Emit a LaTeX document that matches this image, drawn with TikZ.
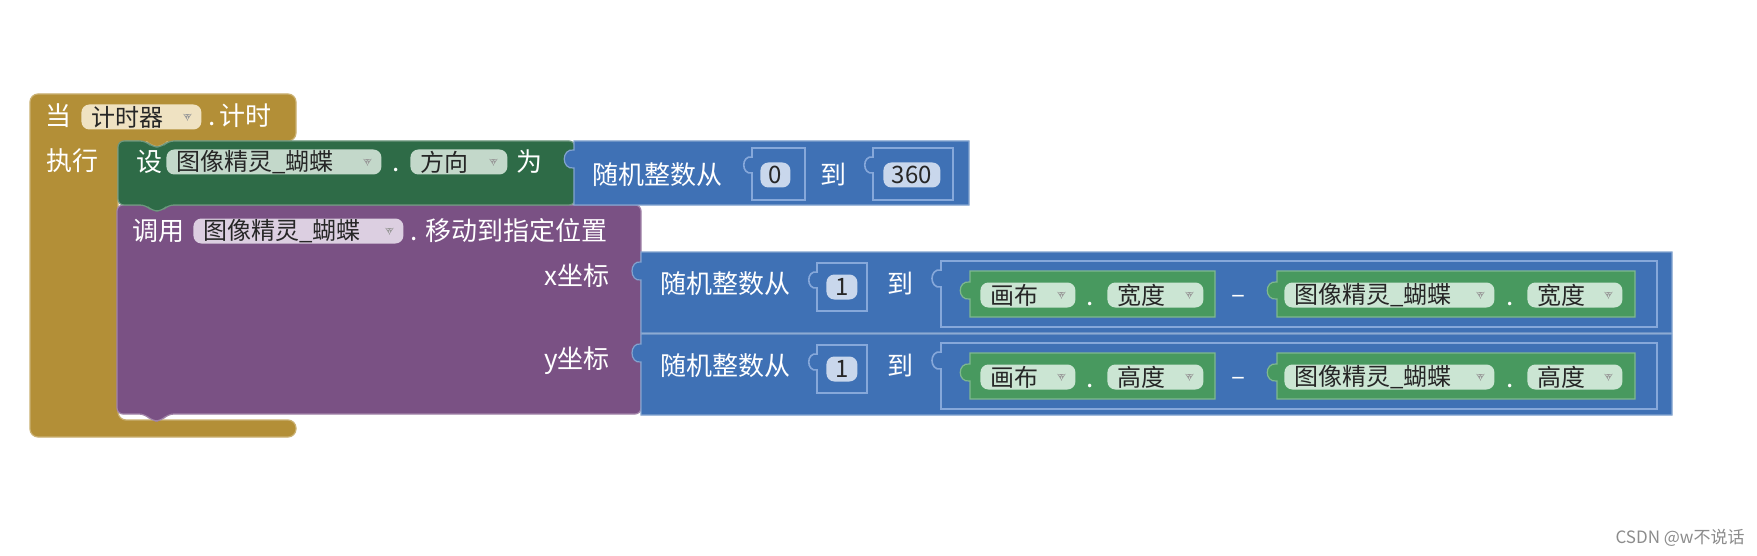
\documentclass[tikz,border=0pt]{standalone}
\usepackage{fontspec}
\setmainfont{Noto Sans CJK SC}
\usepackage{tikz}
\usetikzlibrary{positioning}
\definecolor{eventGold}{HTML}{B38F37}
\definecolor{setGreen}{HTML}{2E6B47}
\definecolor{mathBlue}{HTML}{3F71B5}
\definecolor{callPurple}{HTML}{7A5184}
\definecolor{getGreen}{HTML}{48995F}
\definecolor{socketLine}{HTML}{86A8DA}
\definecolor{goldPill}{HTML}{EFE2C2}
\definecolor{greenPill}{HTML}{C3D8CA}
\definecolor{purplePill}{HTML}{DCCFE1}
\definecolor{bluePill}{HTML}{C9D7EC}
\definecolor{getPill}{HTML}{CBE5D3}
\definecolor{markGray}{HTML}{9A9A9A}
\tikzset{
  blockLabel/.style={
    anchor=west, inner sep=0pt, text=white,
    text height=10.8pt, text depth=1.6pt,
    font=\fontsize{13pt}{15pt}\selectfont,
  },
  pill/.style={
    rectangle, rounded corners=4pt, fill=#1, anchor=west,
    inner xsep=5pt, inner ysep=0pt, minimum height=12.5pt,
    text=black!85, align=left, font=\fontsize{12pt}{13pt}\selectfont,
  },
  dropPill/.style={
    pill=#1,
    path picture={\fill[markGray]
      ([xshift=-9pt,yshift=1.4pt]path picture bounding box.east)
      -- ++(4pt,0) -- ++(-2pt,-3pt) -- cycle;},
  },
  numPill/.style={
    pill=bluePill, inner xsep=3pt, align=center,
  },
  blockEdge/.style={
    draw=#1, line width=0.6pt,
  },
  socket/.style={
    fill=mathBlue, draw=socketLine, line width=0.8pt,
  },
  watermark/.style={
    anchor=east, inner sep=0pt, text=black!45,
    font=\fontsize{8.5pt}{10pt}\selectfont,
  },
}

\begin{document}
\begin{tikzpicture}[x=0.5pt, y=-0.5pt]
\useasboundingbox (0,0) rectangle (1757,556);
\fill[white] (0,0) rectangle (1757,556);

% Event block: when timer fires
\filldraw[fill=eventGold, blockEdge=eventGold!70!white, rounded corners=4pt]
  (30,94) -- (296,94) -- (296,141) -- (168,141) -- (162,147) -- (152,147)
  -- (146,141) -- (118,141) -- (118,420) -- (296,420) -- (296,437)
  -- (30,437) -- cycle;

% Call block: move sprite
\filldraw[fill=callPurple, blockEdge=callPurple!70!white, rounded corners=3pt]
  (117,205) -- (641,205) -- (641,414) -- (168,414) -- (161,421)
  -- (152,421) -- (145,414) -- (117,414) -- cycle;

% Set block: heading
\filldraw[fill=setGreen, blockEdge=setGreen!70!white, rounded corners=3pt]
  (118,141) -- (146,141) -- (152,147) -- (162,147) -- (168,141)
  -- (575,141) -- (575,205) -- (168,205) -- (162,211) -- (152,211)
  -- (146,205) -- (118,205) -- cycle;

% Value block: random 0..360
\filldraw[fill=mathBlue, blockEdge=mathBlue!65!white]
  (574,141) -- (969,141) -- (969,205) -- (574,205) -- (574,168)
  .. controls (561,170) and (561,148) .. (574,150) -- cycle;
\filldraw[socket]
  (752,148) -- (805,148) -- (805,200) -- (752,200) -- (752,173)
  .. controls (741,175) and (741,155) .. (752,157) -- cycle;
\filldraw[socket]
  (873,148) -- (953,148) -- (953,200) -- (873,200) -- (873,173)
  .. controls (862,175) and (862,155) .. (873,157) -- cycle;

% Value blocks: random x / y
\foreach \dy in {0,82}
{
  \filldraw[fill=mathBlue, blockEdge=mathBlue!65!white]
    (641,252+\dy) -- (1672,252+\dy) -- (1672,333+\dy) -- (641,333+\dy)
    -- (641,280+\dy) .. controls (629,282+\dy) and (629,260+\dy)
    .. (641,262+\dy) -- cycle;
  \filldraw[socket]
    (817,263+\dy) -- (867,263+\dy) -- (867,311+\dy) -- (817,311+\dy)
    -- (817,288+\dy) .. controls (806,290+\dy) and (806,270+\dy)
    .. (817,272+\dy) -- cycle;
  \filldraw[socket]
    (941,261+\dy) -- (1657,261+\dy) -- (1657,327+\dy) -- (941,327+\dy)
    -- (941,287+\dy) .. controls (929,289+\dy) and (929,268+\dy)
    .. (941,270+\dy) -- cycle;
  \filldraw[fill=getGreen, blockEdge=getGreen!70!white]
    (970,271+\dy) -- (1215,271+\dy) -- (1215,317+\dy) -- (970,317+\dy)
    -- (970,299+\dy) .. controls (957,301+\dy) and (957,280+\dy)
    .. (970,282+\dy) -- cycle;
  \filldraw[fill=getGreen, blockEdge=getGreen!70!white]
    (1277,271+\dy) -- (1635,271+\dy) -- (1635,317+\dy) -- (1277,317+\dy)
    -- (1277,299+\dy) .. controls (1264,301+\dy) and (1264,280+\dy)
    .. (1277,282+\dy) -- cycle;
}

% Event header
\node[blockLabel] (whenLbl) at (45,116) {当};
\node[dropPill=goldPill, text width=50pt] (timerPill) at (81,117) {计时器};
\node[blockLabel] (timerEvt) at (208,116) {.\hspace{2pt}计时};
\node[blockLabel] (doLbl) at (46,161) {执行};

% Set heading
\node[blockLabel] (setLbl) at (136,162) {设};
\node[dropPill=greenPill, text width=97.5pt] (setSprite) at (166,162)
   {图像精灵\_蝴蝶};
\node[blockLabel] (setDot) at (392,162) {.};
\node[dropPill=greenPill, text width=38.5pt] (headPill) at (410,162) {方向};
\node[blockLabel] (toLbl) at (516,162) {为};

% Random heading
\node[blockLabel] (randHead) at (592,175) {随机整数从};
\node[numPill, text width=9pt] (headFrom) at (760,175) {0};
\node[blockLabel] (headTo) at (820,175) {到};
\node[numPill, text width=22.5pt] (headUpto) at (883,175) {360};

% Call move
\node[blockLabel] (callLbl) at (132,231) {调用};
\node[dropPill=purplePill, text width=95pt] (callSprite) at (193,231)
   {图像精灵\_蝴蝶};
\node[blockLabel] (moveLbl) at (410,231) {.\hspace{4pt}移动到指定位置};
\node[blockLabel, anchor=east] (xArg) at (610,276) {x坐标};
\node[blockLabel, anchor=east] (yArg) at (610,359) {y坐标};

% Random x / y
\foreach \dy/\r/\prop in {0/X/宽度, 82/Y/高度}
{
  \node[blockLabel] (rand\r) at (660,284+\dy) {随机整数从};
  \node[numPill, text width=9.5pt] (from\r) at (826,287+\dy) {1};
  \node[blockLabel] (to\r) at (887,284+\dy) {到};
  \node[dropPill=getPill, text width=37.5pt] (canvas\r) at (980,295+\dy)
     {画布};
  \node[blockLabel] (canvasDot\r) at (1086,296+\dy) {.};
  \node[dropPill=getPill, text width=38pt] (canvasProp\r) at (1107,295+\dy)
     {\prop};
  \node[blockLabel, anchor=center] (minus\r) at (1238,294+\dy) {–};
  \node[dropPill=getPill, text width=95pt] (sprite\r) at (1284,295+\dy)
     {图像精灵\_蝴蝶};
  \node[blockLabel] (spriteDot\r) at (1506,296+\dy) {.};
  \node[dropPill=getPill, text width=37.5pt] (spriteProp\r) at (1527,295+\dy)
     {\prop};
}

\node[watermark] (credit) at (1745,538) {CSDN @w不说话};

\end{tikzpicture}
\end{document}
